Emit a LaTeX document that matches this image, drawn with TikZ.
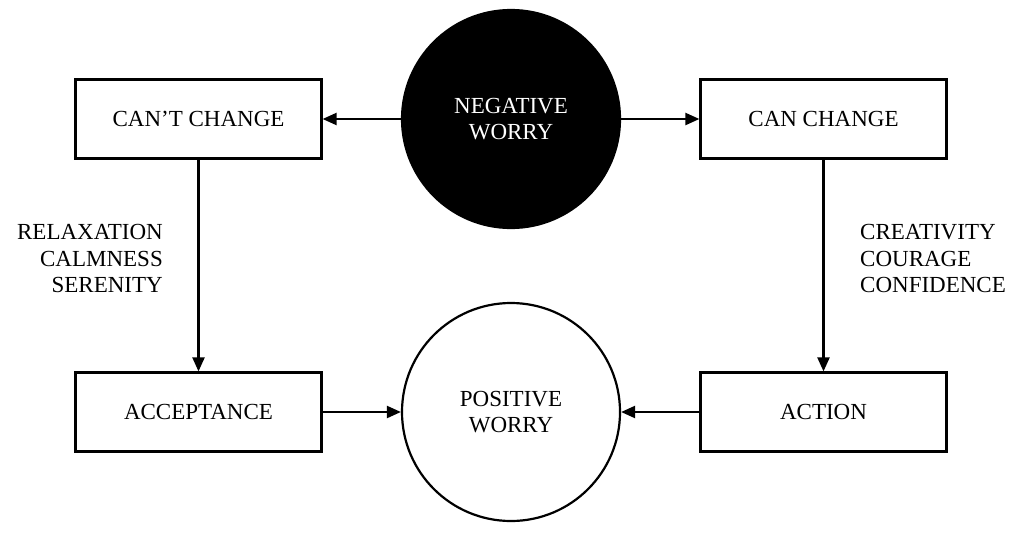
\documentclass[tikz,border=0pt]{standalone}
\usepackage{fontspec}
\setmainfont{Liberation Serif}
\usetikzlibrary{arrows.meta}
\begin{document}
\begin{tikzpicture}[x=1pt,y=-1pt,
  txt/.style={font=\fontsize{23}{26.5}\selectfont},
  box/.style={draw,line width=2.2pt,minimum width=246pt,minimum height=79pt,inner sep=0pt,txt},
  circ/.style={circle,draw,line width=2.2pt,minimum size=218pt,inner sep=0pt,align=center,txt},
  lbl/.style={inner sep=0pt,txt},
  arr/.style={line width=2.2pt,-{Triangle[length=14pt,width=12pt]}}]
\useasboundingbox (0,0) rectangle (1024,538);
\node[box] (cant) at (198.5,119) {CAN’T CHANGE};
\node[box] (can) at (823.5,119) {CAN CHANGE};
\node[box] (acc) at (198.5,412) {ACCEPTANCE};
\node[box] (act) at (823.5,412) {ACTION};
\node[circ,fill=black,text=white] (neg) at (511,119) {NEGATIVE\\WORRY};
\node[circ] (pos) at (511,412) {POSITIVE\\WORRY};
\node[lbl,align=right,anchor=east] (l1) at (163,258.5) {RELAXATION\\CALMNESS\\SERENITY};
\node[lbl,align=left,anchor=west] (l2) at (860,258.5) {CREATIVITY\\COURAGE\\CONFIDENCE};
\draw[arr] (neg.west) -- (cant.east);
\draw[arr] (neg.east) -- (can.west);
\draw[arr] (acc.east) -- (pos.west);
\draw[arr] (act.west) -- (pos.east);
\draw[arr] (cant.south) -- (acc.north);
\draw[arr] (can.south) -- (act.north);
\end{tikzpicture}
\end{document}
